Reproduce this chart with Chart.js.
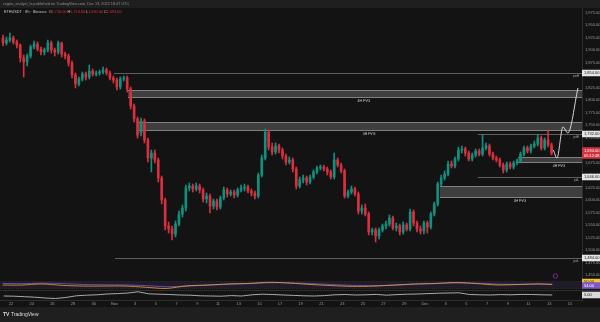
<!DOCTYPE html>
<html lang="en">
<head>
<meta charset="UTF-8">
<title>ETHUSDT chart</title>
<script src="https://cdn.jsdelivr.net/npm/chart.js"></script>
<style>
    html, body { margin: 0; padding: 0; background: #131313; }
    canvas { display: block; }
</style>
</head>
<body>
<canvas id="chart" width="600" height="322"></canvas>
<script>
// candles: one every 8h, day 0 = Oct 22
const firstCandleDay = -0.77;
const candlesPerDay = 3;
const opens = [
    1924,1914,1920,1924,1916,1910,1884,1876,1888,1906,
    1912,1902,1896,1900,1914,1900,1896,1914,1892,1888,
    1874,1850,1832,1842,1852,1846,1858,1852,1854,1856,
    1860,1854,1844,1840,1826,1842,1844,1822,1788,1762,
    1734,1758,1720,1684,1694,1680,1644,1600,1548,1542,
    1532,1552,1572,1584,1624,1628,1622,1628,1620,1602,
    1608,1588,1598,1586,1604,1620,1612,1616,1610,1620,
    1624,1626,1618,1614,1608,1650,1684,1736,1706,1696,
    1708,1700,1688,1676,1680,1662,1628,1640,1644,1636,
    1646,1656,1664,1666,1662,1656,1646,1680,1670,1658,
    1608,1616,1622,1612,1578,1584,1572,1536,1540,1528,
    1540,1548,1552,1564,1544,1548,1536,1550,1542,1576,
    1554,1542,1538,1554,1546,1572,1592,1632,1644,1652,
    1672,1668,1682,1700,1702,1694,1682,1690,1698,1692,
    1704,1708,1692,1684,1680,1670,1660,1672,1666,1674,
    1678,1692,1704,1698,1708,1712,1724,1704,1720,1710
];
const highs = [
    1930,1926,1934,1928,1920,1912,1890,1892,1910,1918,
    1916,1906,1904,1920,1918,1904,1918,1916,1896,1892,
    1878,1854,1846,1856,1856,1870,1862,1858,1860,1866,
    1864,1858,1848,1844,1846,1848,1848,1826,1792,1766,
    1764,1762,1724,1700,1700,1684,1648,1604,1556,1548,
    1558,1578,1590,1630,1634,1632,1634,1632,1624,1614,
    1612,1602,1602,1608,1626,1624,1620,1620,1624,1630,
    1632,1630,1622,1618,1654,1690,1742,1740,1714,1714,
    1712,1704,1692,1686,1684,1666,1646,1650,1648,1650,
    1660,1668,1670,1670,1666,1660,1694,1684,1674,1662,
    1620,1628,1626,1616,1590,1592,1576,1544,1544,1544,
    1552,1558,1570,1568,1554,1552,1556,1554,1582,1580,
    1558,1548,1558,1558,1576,1596,1636,1650,1658,1678,
    1678,1686,1706,1708,1706,1698,1694,1702,1702,1730,
    1714,1712,1696,1688,1684,1674,1676,1676,1678,1682,
    1696,1708,1708,1712,1718,1730,1728,1724,1740,1714
];
const lows = [
    1908,1910,1916,1912,1904,1876,1846,1868,1884,1902,
    1898,1890,1890,1896,1894,1888,1892,1886,1882,1868,
    1844,1824,1828,1838,1840,1842,1848,1848,1850,1852,
    1850,1840,1834,1820,1822,1838,1816,1782,1756,1724,
    1728,1714,1676,1656,1674,1636,1592,1540,1534,1520,
    1526,1548,1566,1578,1618,1616,1618,1614,1596,1594,
    1574,1582,1580,1582,1600,1606,1608,1604,1606,1616,
    1618,1614,1608,1602,1604,1646,1680,1700,1690,1692,
    1694,1682,1670,1672,1656,1622,1624,1634,1630,1632,
    1642,1652,1660,1658,1650,1642,1642,1666,1654,1604,
    1604,1612,1608,1572,1572,1568,1530,1530,1516,1522,
    1536,1542,1548,1540,1538,1530,1532,1538,1538,1548,
    1536,1532,1532,1534,1542,1568,1588,1628,1640,1648,
    1664,1664,1678,1694,1688,1678,1678,1686,1688,1688,
    1700,1688,1680,1676,1666,1654,1656,1662,1662,1670,
    1674,1688,1694,1694,1704,1708,1700,1700,1706,1690
];
const closes = [
    1914,1920,1924,1916,1910,1884,1876,1888,1906,1912,
    1902,1896,1900,1914,1900,1896,1914,1892,1888,1874,
    1850,1832,1842,1852,1846,1858,1852,1854,1856,1860,
    1854,1844,1840,1826,1842,1844,1822,1788,1762,1730,
    1758,1720,1684,1694,1680,1644,1600,1548,1542,1532,
    1552,1572,1584,1624,1628,1622,1628,1620,1602,1608,
    1588,1598,1586,1604,1620,1612,1616,1610,1620,1624,
    1626,1618,1614,1608,1650,1684,1736,1706,1696,1708,
    1700,1688,1676,1680,1662,1628,1640,1644,1636,1646,
    1656,1664,1666,1662,1656,1646,1680,1670,1658,1608,
    1616,1622,1612,1578,1584,1572,1536,1540,1528,1540,
    1548,1552,1564,1544,1548,1536,1550,1542,1576,1554,
    1542,1538,1554,1546,1572,1592,1632,1644,1652,1672,
    1668,1682,1700,1702,1694,1682,1690,1698,1692,1704,
    1708,1692,1684,1680,1670,1660,1672,1666,1674,1678,
    1692,1704,1698,1708,1712,1724,1704,1720,1710,1694
];

// time axis, one label every 2 days
const dayLabels = ['22','24','26','28','30','Nov','3','5','7','9','11','13','15','17',
                   '19','21','23','25','27','29','Dec','3','5','7','9','11','13','15'];

// fair value gaps
const zoneStart  = [11.3, 12.3, 41.45, 49.0];
const zoneTop    = [1820, 1756, 1628, 1686];
const zoneBottom = [1804, 1738, 1604, 1674];
const zoneEnd = 56.9;
const zoneName = '4H FVG';

// key levels
const levelPrice = [1854, 1732, 1646, 1484];
const levelStart = [9.95, 45.1, 45.1, 10.05];
const levelName  = ['pwH', 'pdH', 'pdL', 'pwL'];

// projected path
const pathDays   = [52.4, 52.75, 53.33, 53.8, 54.78];
const pathPrices = [1700, 1684, 1746, 1734, 1824];

// indicator pane (two lines in a band)
const indDays   = [-0.8,1,3,5,7,9,11,13,15,17,19,21,23,25,27,29,31,33,35,37,39,41,43,45,47,49,51,52.3];
const indOrange = [45,45,55,42,36,36,36,25,14,38,45,55,60,70,62,50,40,33,35,45,55,60,68,58,46,50,55,50];
const indPurple = [60,58,62,58,50,48,46,40,30,35,44,52,58,66,66,58,50,42,40,44,52,58,64,62,54,52,54,54];
const indBand = [15, 75];

// oscillator pane, one value a day
const oscFirstDay = -0.7;
const oscValues = [40,38,33,28,20,15,25,42,48,52,60,64,70,82,62,58,55,50,48,42,40,38,44,40,52,58,55,
                   50,46,42,40,44,52,55,50,52,56,48,54,58,60,64,68,70,72,55,52,50,54,52,56,55,52,50];

const upColor = '#12907f', downColor = '#d8303f';
const axisText = '#9a9a9a';

function fmt(v) {
    return v.toLocaleString('en-US', {minimumFractionDigits: 2, maximumFractionDigits: 2});
}

const candleDays = closes.map((_, i) => firstCandleDay + i / candlesPerDay);
const candleColors = closes.map((c, i) => c >= opens[i] ? upColor : downColor);

function tag(ctx, yPix, lines, bg, fg) {
    const h = 5 * lines.length + 1.5;
    ctx.fillStyle = bg;
    ctx.fillRect(582, yPix - h / 2, 18, h);
    ctx.fillStyle = fg;
    ctx.font = '4px Arial';
    ctx.textAlign = 'left';
    ctx.textBaseline = 'middle';
    lines.forEach((t, k) => ctx.fillText(t, 584, yPix - h / 2 + 3.2 + k * 5));
}

const tvPlugin = {
    id: 'tv',
    beforeDraw(chart) {
        const {ctx, width, height} = chart;
        ctx.save();
        ctx.fillStyle = '#131313';
        ctx.fillRect(0, 0, width, height);
        ctx.fillStyle = '#1f1f1f';
        ctx.fillRect(0, 0, width, 8);
        ctx.fillRect(0, height - 15, width, 15);
        ctx.restore();
    },
    beforeDatasetsDraw(chart) {
        const {ctx, chartArea: ca, scales: {x, y, yInd}} = chart;
        ctx.save();
        ctx.beginPath();
        ctx.rect(ca.left, y.top, ca.right - ca.left, y.bottom - y.top);
        ctx.clip();

        zoneStart.forEach((d, k) => {
            const x0 = x.getPixelForValue(d), x1 = x.getPixelForValue(zoneEnd);
            const yt = y.getPixelForValue(zoneTop[k]), yb = y.getPixelForValue(zoneBottom[k]);
            ctx.fillStyle = 'rgba(105,105,105,0.5)';
            ctx.fillRect(x0, yt, x1 - x0, yb - yt);
            ctx.fillStyle = 'rgba(175,175,175,0.75)';
            ctx.fillRect(x0, yt, x1 - x0, 0.8);
            ctx.fillRect(x0, yb - 0.8, x1 - x0, 0.8);
            ctx.font = '3.5px Arial';
            ctx.fillStyle = '#cfcfcf';
            ctx.textAlign = 'center';
            ctx.textBaseline = 'top';
            ctx.fillText(zoneName, (x0 + x1) / 2, yb + 1.5);
        });

        levelPrice.forEach((p, k) => {
            const x0 = x.getPixelForValue(levelStart[k]);
            const yy = Math.round(y.getPixelForValue(p)) + 0.5;
            ctx.strokeStyle = '#5e5e5e';
            ctx.lineWidth = 1;
            ctx.beginPath();
            ctx.moveTo(x0, yy);
            ctx.lineTo(ca.right, yy);
            ctx.stroke();
            ctx.font = '3px Arial';
            ctx.fillStyle = '#a8a8a8';
            ctx.textAlign = 'right';
            ctx.textBaseline = 'top';
            ctx.fillText(levelName[k], ca.right - 3, yy + 1);
        });
        ctx.restore();

        // band of the indicator pane
        ctx.save();
        const b0 = yInd.getPixelForValue(indBand[1]), b1 = yInd.getPixelForValue(indBand[0]);
        ctx.fillStyle = 'rgba(126,87,194,0.13)';
        ctx.fillRect(ca.left, b0, ca.right - ca.left, b1 - b0);
        ctx.strokeStyle = 'rgba(120,123,134,0.45)';
        ctx.setLineDash([1, 1]);
        ctx.lineWidth = 0.5;
        [b0, b1].forEach(v => {
            ctx.beginPath();
            ctx.moveTo(ca.left, v);
            ctx.lineTo(ca.right, v);
            ctx.stroke();
        });
        ctx.restore();
    },
    afterDraw(chart) {
        const {ctx, chartArea: ca, scales: {x, y, yInd, yOsc}} = chart;
        ctx.save();

        // pane separator
        ctx.fillStyle = '#2e2e2e';
        ctx.fillRect(0, Math.round(yOsc.top), 600, 1);

        // marker near the last bar
        ctx.strokeStyle = '#9c27b0';
        ctx.lineWidth = 0.8;
        ctx.beginPath();
        ctx.arc(x.getPixelForValue(52.6), y.getPixelForValue(1448), 2.2, 0, Math.PI * 2);
        ctx.stroke();

        // price axis tags
        levelPrice.forEach(p => tag(ctx, y.getPixelForValue(p), [fmt(p)], '#e6e6e6', '#131313'));
        const last = closes[closes.length - 1];
        tag(ctx, y.getPixelForValue(last), [fmt(last), '05:12:48'], '#d1323f', '#ffffff');
        const io = indOrange[indOrange.length - 1], ip = indPurple[indPurple.length - 1];
        tag(ctx, yInd.getPixelForValue(io) - 2.5, [io.toFixed(2)], '#f0c33c', '#131313');
        tag(ctx, yInd.getPixelForValue(ip) + 1.5, [ip.toFixed(2)], '#7e57c2', '#ffffff');
        const ov = oscValues[oscValues.length - 1];
        tag(ctx, yOsc.getPixelForValue(ov), [(ov / 10).toFixed(2)], '#d9d9d9', '#131313');

        // header
        ctx.font = '3.8px Arial';
        ctx.textAlign = 'left';
        ctx.textBaseline = 'middle';
        ctx.fillStyle = '#8f8f8f';
        ctx.fillText('crypto_analyst_fx published on TradingView.com, Dec 13, 2022 18:47 UTC', 3, 4);

        let cx = 4;
        const parts = [['ETHUSDT \u00b7 8h \u00b7 Binance  ', '#c8c8c8'],
                       ['O', '#c8c8c8'], [fmt(opens[opens.length - 1]) + ' ', downColor],
                       ['H', '#c8c8c8'], [fmt(highs[highs.length - 1]) + ' ', downColor],
                       ['L', '#c8c8c8'], [fmt(lows[lows.length - 1]) + ' ', downColor],
                       ['C', '#c8c8c8'], [fmt(last), downColor]];
        parts.forEach(([t, c]) => {
            ctx.fillStyle = c;
            ctx.fillText(t, cx, 11.5);
            cx += ctx.measureText(t).width;
        });

        // footer logo
        ctx.fillStyle = '#dcdcdc';
        ctx.font = 'bold 5px Arial';
        ctx.fillText('TV', 3, 314.5);
        ctx.font = '5px Arial';
        ctx.fillText('TradingView', 11, 314.5);
        ctx.restore();
    }
};

const paneAxis = {
    position: 'right',
    stack: 'panes',
    grid: {display: false, drawTicks: false},
    border: {color: '#2e2e2e'},
    afterFit: s => { s.width = 18; }
};

new Chart(document.getElementById('chart'), {
    type: 'bar',
    data: {
        datasets: [
            {
                label: 'bodies',
                data: closes.map((c, i) => ({x: candleDays[i], y: [opens[i], c]})),
                backgroundColor: candleColors,
                barThickness: 2,
                minBarLength: 1,
                grouped: false,
                yAxisID: 'y',
                order: 1
            },
            {
                label: 'wicks',
                data: closes.map((c, i) => ({x: candleDays[i], y: [lows[i], highs[i]]})),
                backgroundColor: candleColors,
                barThickness: 1,
                grouped: false,
                yAxisID: 'y',
                order: 2
            },
            {
                type: 'line',
                label: 'path',
                data: pathDays.map((d, i) => ({x: d, y: pathPrices[i]})),
                borderColor: '#d6d6d6',
                borderWidth: 1,
                pointRadius: 0,
                cubicInterpolationMode: 'monotone',
                yAxisID: 'y',
                order: 0
            },
            {
                type: 'line',
                label: 'signal',
                data: indDays.map((d, i) => ({x: d, y: indOrange[i]})),
                borderColor: '#e8a33d',
                borderWidth: 0.8,
                pointRadius: 0,
                tension: 0.3,
                yAxisID: 'yInd',
                order: 0
            },
            {
                type: 'line',
                label: 'main',
                data: indDays.map((d, i) => ({x: d, y: indPurple[i]})),
                borderColor: '#7e57c2',
                borderWidth: 0.8,
                pointRadius: 0,
                tension: 0.3,
                yAxisID: 'yInd',
                order: 0
            },
            {
                type: 'line',
                label: 'osc',
                data: oscValues.map((v, i) => ({x: oscFirstDay + i, y: v})),
                borderColor: '#cfcfcf',
                borderWidth: 0.8,
                pointRadius: 0,
                yAxisID: 'yOsc',
                order: 0
            }
        ]
    },
    options: {
        responsive: false,
        animation: false,
        events: [],
        layout: {padding: {top: 8, bottom: 15, left: 0, right: 0}},
        plugins: {legend: {display: false}, tooltip: {enabled: false}},
        scales: {
            x: {
                type: 'linear',
                min: -1.06,
                max: 55.17,
                offset: false,
                grid: {display: false, drawTicks: false},
                border: {color: '#2e2e2e'},
                afterBuildTicks: s => { s.ticks = dayLabels.map((_, k) => ({value: k * 2})); },
                ticks: {
                    callback: (v, k) => dayLabels[k],
                    color: axisText,
                    font: {size: 4},
                    padding: 1.5,
                    maxRotation: 0,
                    autoSkip: false
                },
                afterFit: s => { s.height = 7; }
            },
            y: {
                ...paneAxis,
                stackWeight: 271,
                min: 1442,
                max: 1984,
                ticks: {
                    stepSize: 25,
                    includeBounds: false,
                    autoSkip: false,
                    color: axisText,
                    font: {size: 4},
                    padding: 3,
                    callback: v => fmt(v)
                }
            },
            yInd: {
                ...paneAxis,
                stackWeight: 11,
                min: 0,
                max: 100,
                ticks: {display: false}
            },
            yOsc: {
                ...paneAxis,
                stackWeight: 10,
                min: 0,
                max: 100,
                ticks: {display: false}
            }
        }
    },
    plugins: [tvPlugin]
});
</script>
</body>
</html>
